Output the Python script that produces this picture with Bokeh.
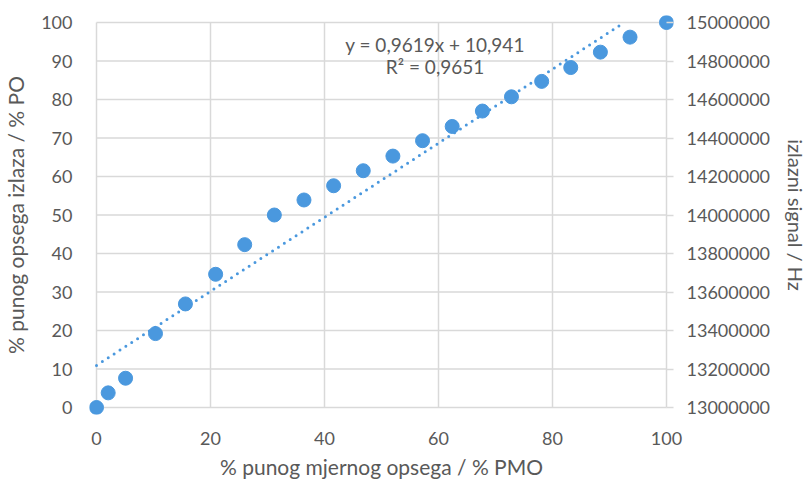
from bokeh.plotting import figure
from bokeh.models import Range1d, LinearAxis, FixedTicker, Label, BasicTickFormatter
from bokeh.embed import file_html
from bokeh.resources import INLINE

# data
x_pmo = [0, 2.05, 5.1, 10.35, 15.6, 20.9, 26.0, 31.2, 36.4, 41.6, 46.8, 52.0,
         57.2, 62.4, 67.7, 72.8, 78.1, 83.2, 88.4, 93.6, 100]
y_po = [0, 3.8, 7.6, 19.2, 26.9, 34.6, 42.3, 50.0, 53.9, 57.6, 61.5, 65.3,
        69.3, 73.0, 77.0, 80.7, 84.7, 88.3, 92.3, 96.2, 100]
trend_slope = 0.9619
trend_intercept = 10.941
x_ticks = [0, 20, 40, 60, 80, 100]
y_ticks = [0, 10, 20, 30, 40, 50, 60, 70, 80, 90, 100]
hz_ticks = [13000000, 13200000, 13400000, 13600000, 13800000, 14000000,
            14200000, 14400000, 14600000, 14800000, 15000000]
eq_text = "y = 0,9619x + 10,941"
r2_text = "R\u00b2 = 0,9651"

FONT = "Lato"
TXT = "#595959"
GRID = "#d9d9d9"
BLUE = "#4A98DE"

# plot area: 570 x 385 px for the 0..100 span, with 7 px of extra room on every side
# so that the markers at the corners are not clipped
FW, FH, PAD = 570, 385, 7
x0, x1 = x_ticks[0], x_ticks[-1]
y0, y1 = y_ticks[0], y_ticks[-1]
h0, h1 = hz_ticks[0], hz_ticks[-1]
xpad = PAD * (x1 - x0) / FW
ypad = PAD * (y1 - y0) / FH
hpad = PAD * (h1 - h0) / FH

p = figure(frame_width=FW + 2 * PAD, frame_height=FH + 2 * PAD, output_backend="svg",
           toolbar_location=None,
           x_range=Range1d(x0 - xpad, x1 + xpad), y_range=Range1d(y0 - ypad, y1 + ypad),
           min_border_left=88 - PAD, min_border_right=20, min_border_top=22 - PAD,
           min_border_bottom=74 - PAD)
p.outline_line_color = None
p.grid.visible = False
p.extra_y_ranges = {"hz": Range1d(h0 - hpad, h1 + hpad)}

# gridlines limited to the 0..100 span
p.segment(x0=x_ticks, y0=[y0] * len(x_ticks), x1=x_ticks, y1=[y1] * len(x_ticks),
          line_color=GRID, line_width=1.5)
p.segment(x0=[x0] * len(y_ticks), y0=y_ticks, x1=[x1] * len(y_ticks), y1=y_ticks,
          line_color=GRID, line_width=1.5)

p.xaxis.ticker = FixedTicker(ticks=x_ticks)
p.yaxis.ticker = FixedTicker(ticks=y_ticks)
for ax in (p.xaxis[0], p.yaxis[0]):
    ax.axis_line_color = None
    ax.major_tick_line_color = None
    ax.minor_tick_line_color = None
    ax.major_label_text_font = FONT
    ax.major_label_text_font_size = "18px"
    ax.major_label_text_color = TXT
    ax.axis_label_text_font = FONT
    ax.axis_label_text_font_size = "21px"
    ax.axis_label_text_font_style = "normal"
    ax.axis_label_text_color = TXT
    ax.major_label_standoff = 18 - PAD
p.xaxis.axis_label = "% punog mjernog opsega / % PMO"
p.yaxis.axis_label = "% punog opsega izlaza / % PO"
p.xaxis.axis_label_standoff = 6
p.yaxis.axis_label_standoff = 10

rax = LinearAxis(y_range_name="hz", ticker=FixedTicker(ticks=hz_ticks),
                 formatter=BasicTickFormatter(use_scientific=False),
                 axis_label="izlazni signal / Hz")
rax.axis_line_color = None
rax.major_tick_line_color = GRID
rax.major_tick_line_width = 1.5
rax.major_tick_out = 0
rax.major_tick_in = PAD
rax.minor_tick_line_color = None
rax.major_label_text_font = FONT
rax.major_label_text_font_size = "18px"
rax.major_label_text_color = TXT
rax.major_label_standoff = 13
rax.axis_label_text_font = FONT
rax.axis_label_text_font_size = "20px"
rax.axis_label_text_font_style = "normal"
rax.axis_label_text_color = TXT
rax.axis_label_standoff = 11
p.add_layout(rax, "right")

# trendline (ends at the top of the plot area)
x_end = (y1 - trend_intercept) / trend_slope
p.line([x0, x_end], [trend_intercept + trend_slope * x0, trend_intercept + trend_slope * x_end],
       line_color=BLUE, line_width=3, line_dash="0 7", line_cap="round")

p.scatter(x_pmo, y_po, size=14, color=BLUE, line_color=BLUE)

p.add_layout(Label(x=59.4, y=94.2, text=eq_text, text_align="center", text_baseline="middle",
                   text_font=FONT, text_font_size="19px", text_color=TXT))
p.add_layout(Label(x=59.4, y=88.6, text=r2_text, text_align="center", text_baseline="middle",
                   text_font=FONT, text_font_size="19px", text_color=TXT))

open("out.html", "w").write(file_html(p, INLINE))
